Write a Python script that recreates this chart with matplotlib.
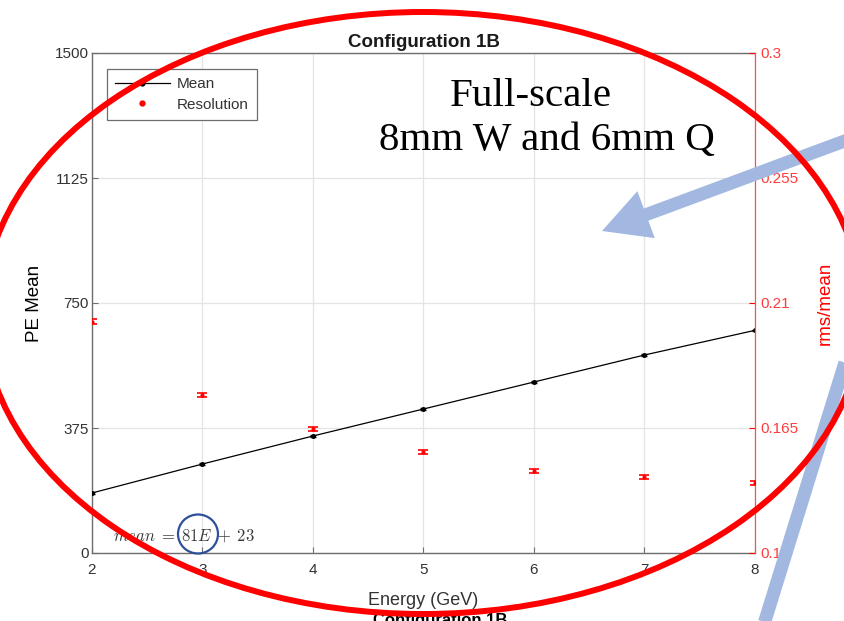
import matplotlib
matplotlib.use("Agg")
import matplotlib.pyplot as plt
from matplotlib.patches import Ellipse, FancyArrow
from matplotlib.lines import Line2D
from matplotlib.transforms import IdentityTransform

# ---- data ----
energy = [2, 3, 4, 5, 6, 7, 8]
pe_mean = [180, 267, 351, 432, 513, 594, 668]
pe_err = [2, 2, 2, 2, 2, 2, 2]
resolution = [0.2033, 0.1769, 0.1646, 0.1564, 0.1495, 0.1474, 0.1452]
res_err = [0.0008, 0.0008, 0.0008, 0.0007, 0.0007, 0.0007, 0.0007]
left_ticks = [0, 375, 750, 1125, 1500]
right_ticks = [0.12, 0.165, 0.21, 0.255, 0.3]
right_ticklabels = ["0.12", "0.165", "0.21", "0.255", "0.3"]
x_ticks = [2, 3, 4, 5, 6, 7, 8]

W, H = 845, 621
plt.rcParams['font.family'] = ['Liberation Sans', 'DejaVu Sans']
plt.rcParams['mathtext.fontset'] = 'cm'

fig = plt.figure(figsize=(W / 100, H / 100), dpi=100)
ax = fig.add_axes([92 / W, 1 - 553 / H, (755 - 92) / W, (553 - 53) / H])
ax2 = ax.twinx()

gray = '#6e6e6e'
txt = '#333333'
red = '#ff0000'

# left axis
ax.set_xlim(2, 8)
ax.set_ylim(0, 1500)
ax.set_xticks(x_ticks)
ax.set_yticks(left_ticks)
ax.grid(True, color='#e4e4e4', lw=0.9)
ax.set_axisbelow(True)
ax.tick_params(direction='in', length=4, colors=gray, labelcolor=txt, labelsize=11)
ax.tick_params(axis='y', pad=2.5)
ax.tick_params(axis='x', pad=7)
for s in ['left', 'bottom', 'top']:
    ax.spines[s].set_color(gray)
    ax.spines[s].set_linewidth(1.0)
ax.spines['right'].set_visible(False)

ax.plot(energy, pe_mean, color='black', lw=0.9, marker='.', ms=5, zorder=3)
ax.errorbar(energy, pe_mean, yerr=pe_err, fmt='none', ecolor='black', lw=0.8, capsize=2, zorder=3)

# right axis
ax2.set_ylim(0.12, 0.3)
ax2.set_yticks(right_ticks)
ax2.set_yticklabels(right_ticklabels)
ax2.tick_params(direction='in', length=4, colors=red, labelcolor='#ff3b3b', labelsize=11, pad=4)
for s in ['left', 'bottom', 'top']:
    ax2.spines[s].set_visible(False)
ax2.spines['right'].set_color('#ff5050')
ax2.spines['right'].set_linewidth(0.9)

ax2.errorbar(energy, resolution, yerr=res_err, fmt='none', ecolor=red, lw=1.2, capsize=3.5, capthick=1.2, zorder=3)
ax2.plot(energy, resolution, ls='none', marker='.', ms=4, color=red, zorder=3)

ax.set_title('Configuration 1B', fontsize=13.5, fontweight='bold', color='#1a1a1a', pad=4)
ax.set_xlabel('Energy (GeV)', fontsize=13, color=txt, labelpad=11)
ax.set_ylabel('PE Mean', fontsize=13.5, color='black', labelpad=8)
ax2.set_ylabel('rms/mean', fontsize=13.5, color=red, labelpad=13)

h_mean = Line2D([], [], color='black', lw=0.9, marker='o', ms=3.5)
h_res = Line2D([], [], color=red, ls='none', marker='o', ms=3.5)
leg = ax2.legend([h_mean, h_res], ['Mean', 'Resolution'], loc='upper left',
                 bbox_to_anchor=(0.022, 0.968), borderaxespad=0, fancybox=False,
                 edgecolor=gray, fontsize=11, handlelength=3.6, handletextpad=0.45,
                 framealpha=1, borderpad=0.55, labelspacing=0.4)
leg.get_frame().set_linewidth(0.9)
for t in leg.get_texts():
    t.set_color(txt)

# equation
ax.text(2.19, 52, r'$mean \;=\; 81E \;+\; 23$', fontsize=12, color='#3a3a3a',
        va='center', ha='left', zorder=4)

# annotation text
serif = ['Liberation Serif', 'DejaVu Serif']
fig.text(531 / W, 1 - 96 / H, 'Full-scale', family=serif,
         fontsize=29.5, ha='center', va='center', color='black')
fig.text(547 / W, 1 - 141 / H, '8mm W and 6mm Q', family=serif,
         fontsize=29.5, ha='center', va='center', color='black')

# caption under chart (mostly hidden)
fig.text(440 / W, 1 - 613 / H, 'Configuration 1B', fontsize=12, fontweight='bold',
         ha='center', va='top', color='black')

ident = IdentityTransform()
blue = '#a3b8e0'
tail = (850, H - 139)
tip = (602, H - 231)
arr = FancyArrow(tail[0], tail[1], tip[0] - tail[0], tip[1] - tail[1], width=13,
                 head_width=50, head_length=47, length_includes_head=True,
                 transform=ident, color=blue, lw=0, zorder=5)
fig.add_artist(arr)
fig.add_artist(Line2D([764, 852], [H - 624, H - 340], transform=ident, color=blue,
                      lw=9.5, solid_capstyle='butt', zorder=5))

ell = Ellipse((423, H - 313), 880, 602, transform=ident, fill=False,
              edgecolor='#ff0000', lw=4.3, zorder=6)
fig.add_artist(ell)

circ = Ellipse((198, H - 534), 40, 39, transform=ident, fill=False,
               edgecolor='#2e4f9a', lw=1.6, zorder=7)
fig.add_artist(circ)

fig.savefig('out.png', dpi=100)
